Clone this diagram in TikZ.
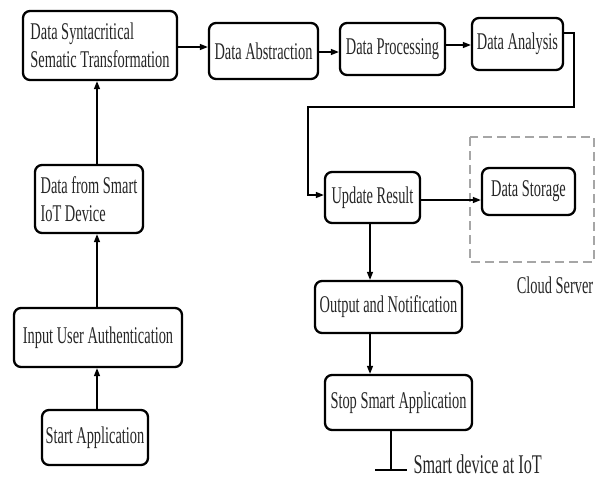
\documentclass[tikz,border=0pt]{standalone}
\usepackage{fontspec}
\setmainfont{Liberation Serif}[FakeStretch=0.6]
\usetikzlibrary{arrows.meta}
\begin{document}
\begin{tikzpicture}[x=1pt,y=-1pt,
  font=\fontsize{24}{28}\selectfont,
  box/.style={draw=black,line width=2.3pt,rounded corners=7pt,inner sep=0pt,text=black!85},
  arr/.style={line width=1.3pt,-{Triangle[length=8pt,width=6pt]}},
  ln/.style={line width=1.3pt}]
\useasboundingbox (0,0) rectangle (596,479);
% dashed cloud server box
\draw[gray!70,line width=1.3pt,dash pattern=on 9pt off 5pt] (470,137) rectangle (594,262);
\node[anchor=base,text=black!85] (cloud) at (555,293) {Cloud Server};
% boxes
\node[box,minimum width=154pt,minimum height=69pt,align=left] (syn) at (100,45.5) {Data Syntacritical\\Sematic Transformation};
\node[box,minimum width=109pt,minimum height=56pt] (abs) at (263.5,51) {Data Abstraction};
\node[box,minimum width=105pt,minimum height=52pt] (proc) at (392.5,49) {Data Processing};
\node[box,minimum width=91pt,minimum height=52pt] (ana) at (517.5,44) {Data Analysis};
\node[box,minimum width=95pt,minimum height=51pt] (upd) at (372.5,197.5) {Update Result};
\node[box,minimum width=93pt,minimum height=47pt] (sto) at (528.5,191.5) {Data Storage};
\node[box,minimum width=147pt,minimum height=52pt] (out) at (388.5,307) {Output and Notification};
\node[box,minimum width=147pt,minimum height=55pt] (stop) at (398.5,402.5) {Stop Smart Application};
\node[box,minimum width=108pt,minimum height=68pt,align=left] (dev) at (89,199) {Data from Smart\\IoT Device};
\node[box,minimum width=168pt,minimum height=59pt] (inp) at (98,337.5) {Input User Authentication};
\node[box,minimum width=106pt,minimum height=55pt] (start) at (95,437.5) {Start Application};
% coordinates
\coordinate (lx) at (97,0);
\coordinate (rx) at (370,0);
\coordinate (iot) at (391,470);
\coordinate (fb0) at (563,33);
\coordinate (fb1) at (574,33);
\coordinate (fb2) at (574,107);
\coordinate (fb3) at (308,107);
\coordinate (fb4) at (308,195);
% left column
\draw[arr] (start.north -| lx) -- (inp.south -| lx);
\draw[arr] (inp.north -| lx) -- (dev.south -| lx);
\draw[arr] (dev.north -| lx) -- (syn.south -| lx);
% top row
\draw[arr] ([yshift=-1.5pt]syn.east) -- ([yshift=-1.5pt]syn.east -| abs.west);
\draw[arr] ([yshift=-1pt]abs.east) -- ([yshift=-1pt]abs.east -| proc.west);
\draw[arr] ([yshift=4pt]proc.east) -- ([yshift=4pt]proc.east -| ana.west);
% feedback
\draw[arr] (fb0 -| ana.east) -- (fb1) -- (fb2) -- (fb3) -- (fb4) -- (fb4 -| upd.west);
% right column
\draw[arr] ([yshift=-2.5pt]upd.east) -- ([yshift=-2.5pt]upd.east -| sto.west);
\draw[arr] (upd.south -| rx) -- (out.north -| rx);
\draw[arr] (out.south -| rx) -- (stop.north -| rx);
\draw[ln] (stop.south -| iot) -- (iot);
\draw[ln] ([xshift=-16pt]iot) -- ([xshift=16pt]iot);
\node[anchor=base west,text=black!85,font=\fontsize{27}{30}\selectfont] (iottxt) at (410,473) {Smart device at IoT};
\end{tikzpicture}
\end{document}
